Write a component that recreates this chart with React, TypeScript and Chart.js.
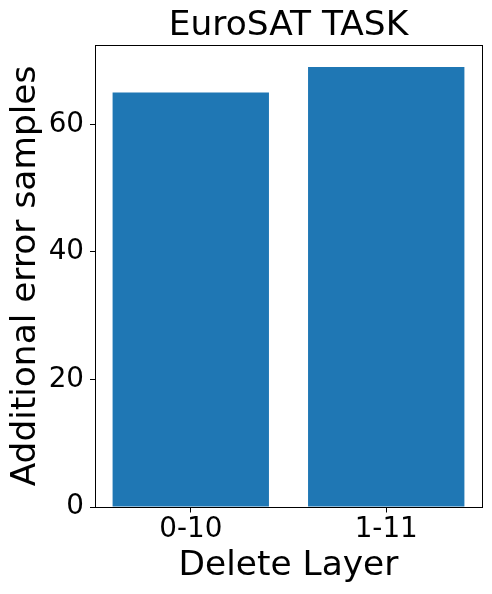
import { useEffect, useRef } from 'react';
import { Chart, registerables } from 'chart.js';

Chart.register(...registerables);

const categories = ['0-10', '1-11'];
const values = [65, 69];
const yTickValues = [0, 20, 40, 60];
const titleText = 'EuroSAT TASK';
const xLabel = 'Delete Layer';
const yLabel = 'Additional error samples';
const barColor = '#1f77b4';

const FONT = "'DejaVu Sans', sans-serif";
const BIG = 34.4;
const SMALL = 27.8;

export default function App() {
  const ref = useRef<HTMLCanvasElement>(null);

  useEffect(() => {
    if (!ref.current) return;
    const frame = {
      id: 'frame',
      afterDraw(chart: any) {
        const { ctx, chartArea } = chart;
        const { left, top, right, bottom } = chartArea;
        ctx.save();
        ctx.strokeStyle = '#000';
        ctx.lineWidth = 1;
        ctx.strokeRect(left + 0.5, top + 0.5, right - left, bottom - top);
        const xs = chart.scales.x;
        ctx.beginPath();
        categories.forEach((_, i) => {
          const px = Math.round(xs.getPixelForValue(i) - 0.5) + 0.5;
          ctx.moveTo(px, bottom + 0.5);
          ctx.lineTo(px, bottom + 5.5);
        });
        ctx.stroke();
        ctx.restore();
      },
    };

    const chart = new Chart(ref.current, {
      type: 'bar',
      data: {
        datasets: [
          {
            data: categories.map((c, i) => ({ x: i, y: values[i] })),
            backgroundColor: barColor,
            borderWidth: 0,
            categoryPercentage: 1,
            barPercentage: 0.8,
          },
        ],
      },
      options: {
        responsive: false,
        animation: false,
        color: '#000',
        layout: { padding: { top: 0, left: 0, right: 10, bottom: 0 } },
        plugins: {
          legend: { display: false },
          tooltip: { enabled: false },
          title: {
            display: true,
            text: titleText,
            fullSize: false,
            color: '#000',
            font: { family: FONT, size: BIG, weight: 'normal', lineHeight: 1.0 },
            padding: { top: 9.3, bottom: 1.3 },
          },
        },
        scales: {
          x: {
            type: 'linear',
            min: -0.49,
            max: 1.49,
            offset: false,
            afterBuildTicks: (scale: any) => {
              scale.ticks = categories.map((_, i) => ({ value: i }));
            },
            afterFit: (scale: any) => {
              scale.height = 87;
            },
            ticks: {
              color: '#000',
              font: { family: FONT, size: SMALL, lineHeight: 1.2 },
              padding: 1.3,
              maxRotation: 0,
              autoSkip: false,
              callback: (v: any) => categories[Math.round(Number(v))] ?? '',
            },
            grid: {
              offset: false,
              drawOnChartArea: false,
              drawTicks: true,
              tickLength: 5,
              color: '#000',
              lineWidth: 1,
            },
            border: { display: true, color: '#000', width: 1 },
            title: {
              display: true,
              text: xLabel,
              color: '#000',
              font: { family: FONT, size: BIG, lineHeight: 1.2 },
              padding: { top: 0, bottom: 6.9 },
            },
          },
          y: {
            type: 'linear',
            min: 0,
            max: 72.45,
            afterBuildTicks: (scale: any) => {
              scale.ticks = yTickValues.map((v) => ({ value: v }));
            },
            afterFit: (scale: any) => {
              scale.width = 95;
            },
            ticks: {
              color: '#000',
              font: { family: FONT, size: SMALL, lineHeight: 1.2 },
              padding: 6,
              autoSkip: false,
              callback: (v: any) => String(v),
            },
            grid: {
              offset: false,
              drawOnChartArea: false,
              drawTicks: true,
              tickLength: 5,
              color: '#000',
              lineWidth: 1,
            },
            border: { display: true, color: '#000', width: 1 },
            title: {
              display: true,
              text: yLabel,
              color: '#000',
              font: { family: FONT, size: BIG, lineHeight: 1.2 },
              padding: { top: 5.2, bottom: 0 },
            },
          },
        },
      },
      plugins: [frame],
    } as any);

    return () => chart.destroy();
  }, []);

  return (
    <div style={{ position: 'absolute', left: 0, top: 0, width: 492, height: 594, background: '#fff' }}>
      <canvas ref={ref} width={492} height={594} style={{ display: 'block', width: 492, height: 594 }} />
    </div>
  );
}
